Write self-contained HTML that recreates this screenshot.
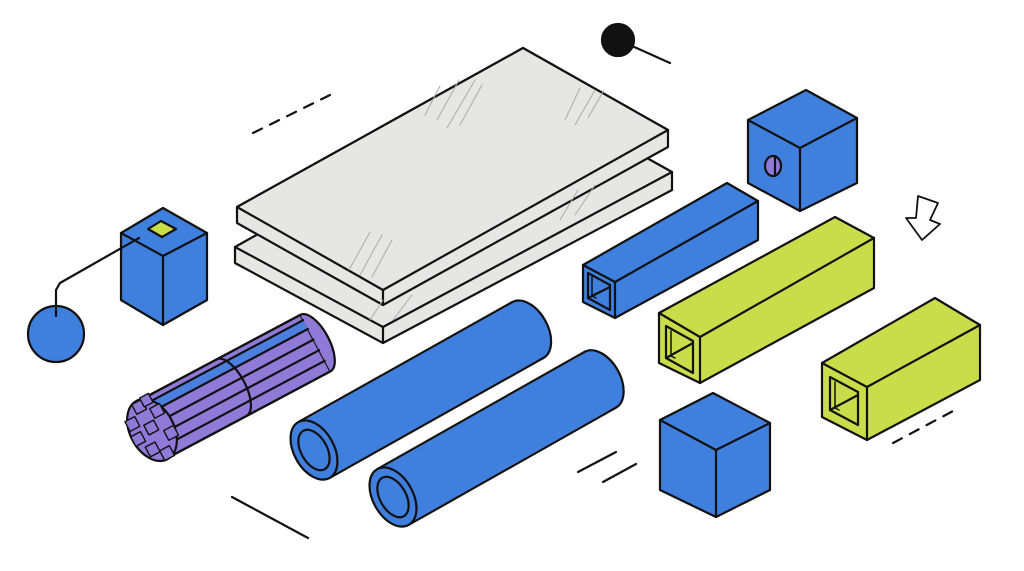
<!DOCTYPE html>
<html><head><meta charset="utf-8"><style>html,body{margin:0;padding:0;background:#fff}svg{display:block}</style></head>
<body>
<svg width="1024" height="571" viewBox="0 0 1024 571" xmlns="http://www.w3.org/2000/svg" stroke="#111" stroke-width="2.2" stroke-linejoin="round" stroke-linecap="round">
<line x1="253" y1="133" x2="330" y2="95" stroke-dasharray="10 9"/>
<line x1="232" y1="497" x2="308" y2="538"/>
<line x1="578" y1="472" x2="616" y2="452"/>
<line x1="603" y1="482" x2="636" y2="464"/>
<line x1="893" y1="443" x2="955" y2="410" stroke-dasharray="10 9"/>
<circle cx="618" cy="40" r="16" fill="#111"/>
<line x1="632" y1="46" x2="670" y2="63"/>

<polygon points="235,247 520,87 672,172 672,190 383,343 235,263" fill="#e6e6e4"/>
<polyline points="235,247 383,327 672,172" fill="none"/>
<line x1="383" y1="327" x2="383" y2="343"/>
<polygon points="237,207 523,48 668,130 668,147 383,305 237,223" fill="#e6e6e4"/>
<polygon points="237,207 523,48 668,130 383,290" fill="#e6e6e4"/>
<line x1="383" y1="290" x2="383" y2="305"/>
<g stroke="#aaa" stroke-width="1">
<line x1="425" y1="115" x2="440" y2="86"/><line x1="437" y1="120" x2="459" y2="80"/><line x1="447" y1="128" x2="475" y2="80"/><line x1="460" y1="125" x2="482" y2="85"/>
<line x1="565" y1="120" x2="580" y2="88"/><line x1="575" y1="125" x2="595" y2="90"/><line x1="588" y1="118" x2="604" y2="90"/>
<line x1="349" y1="270" x2="370" y2="232"/><line x1="360" y1="275" x2="382" y2="235"/><line x1="372" y1="277" x2="392" y2="240"/>
<line x1="370" y1="320" x2="383" y2="300"/><line x1="393" y1="320" x2="412" y2="295"/>
<line x1="560" y1="220" x2="578" y2="190"/><line x1="575" y1="215" x2="595" y2="185"/>
</g>

<polygon points="121,233 163,208 207,233 207,300 163,325 121,300" fill="#3f7fde"/>
<polyline points="121,233 163,256 207,233" fill="none"/>
<line x1="163" y1="256" x2="163" y2="325"/>
<polygon points="148,229 161,221 176,229 162,237" fill="#c9dc4a"/>
<polyline points="139,238 60,283 56,290 56,315" fill="none"/>
<circle cx="56" cy="334" r="28" fill="#3f7fde"/>
<line x1="56" y1="306" x2="56" y2="316"/>

<g transform="translate(152,430) rotate(-28)">
<rect x="0" y="-32" width="185" height="64" fill="#8f7ad8"/>
<path d="M185,-32 A14 32 0 0 1 185,32" fill="#8f7ad8"/>
<line x1="0" y1="-32" x2="185" y2="-32"/><line x1="0" y1="32" x2="185" y2="32"/>
<rect x="0" y="-26" width="185" height="10" fill="#4a7fe0" stroke="none"/>
<line x1="0" y1="-26" x2="185" y2="-26"/><line x1="0" y1="-16" x2="185" y2="-16"/>
<line x1="0" y1="-4" x2="185" y2="-4"/><line x1="0" y1="8" x2="185" y2="8"/><line x1="0" y1="20" x2="185" y2="20"/>
<path d="M90,-32 A14 32 0 0 1 90,32" fill="none"/>
<ellipse cx="0" cy="0" rx="22" ry="33" fill="#8f7ad8"/>
<g fill="#8f7ad8" stroke-width="1.4">
<rect x="-6" y="-32" width="11" height="11"/><rect x="-20" y="-20" width="11" height="11"/><rect x="-22" y="-4" width="11" height="11"/>
<rect x="-14" y="12" width="11" height="11"/><rect x="-3" y="22" width="11" height="11"/><rect x="8" y="-20" width="11" height="11"/><rect x="10" y="6" width="11" height="11"/>
<rect x="-5" y="-8" width="11" height="11"/><rect x="4" y="-34" width="10" height="10"/>
</g>
</g>

<g transform="translate(314,450) rotate(-29.3)">
<ellipse cx="245" cy="0" rx="20" ry="32" fill="#3f7fde"/>
<rect x="0" y="-31" width="245" height="62" fill="#3f7fde" stroke="none"/>
<line x1="0" y1="-32" x2="245" y2="-32"/><line x1="0" y1="32" x2="245" y2="32"/>
<ellipse cx="0" cy="0" rx="20" ry="32" fill="#3f7fde"/>
<ellipse cx="0" cy="0" rx="13" ry="22" fill="#3f7fde"/>
</g>
<g transform="translate(393,497) rotate(-29.5)">
<ellipse cx="238" cy="0" rx="20" ry="32" fill="#3f7fde"/>
<rect x="0" y="-31" width="238" height="62" fill="#3f7fde" stroke="none"/>
<line x1="0" y1="-32" x2="238" y2="-32"/><line x1="0" y1="32" x2="238" y2="32"/>
<ellipse cx="0" cy="0" rx="20" ry="32" fill="#3f7fde"/>
<ellipse cx="0" cy="0" rx="13" ry="22" fill="#3f7fde"/>
</g>

<polygon points="748,120 806,90 857,118 857,183 800,211 748,183" fill="#3f7fde"/>
<polyline points="748,120 800,148 857,118" fill="none"/>
<line x1="800" y1="148" x2="800" y2="211"/>
<ellipse cx="773" cy="166" rx="8" ry="10" fill="#8f7ad8"/>
<line x1="775" y1="156" x2="775" y2="176"/>

<polygon points="918,196 938,203 930,220 940,224 922,240 906,218 916,218" fill="#fff" stroke-width="1.8"/>

<polygon points="583,265 727,183 758,201 758,240 615,318 583,302" fill="#3f7fde"/>
<polyline points="583,265 615,282 758,201" fill="none"/>
<line x1="615" y1="282" x2="615" y2="318"/>
<polygon points="588,273 610,285 610,310 588,298" fill="#3f7fde"/>
<polyline points="588,298 610,287 610,285" fill="none"/>
<polyline points="592,277 592,296 596,298" fill="none" stroke-width="1.5"/>

<polygon points="659,313 835,217 874,238 874,288 700,383 659,363" fill="#c9dc4a"/>
<polyline points="659,313 700,337 874,238" fill="none"/>
<line x1="700" y1="337" x2="700" y2="383"/>
<polygon points="666,326 693,341 693,373 666,358" fill="#c9dc4a"/>
<line x1="666" y1="358" x2="693" y2="343"/>
<polyline points="671,331 671,356 675,358" fill="none" stroke-width="1.5"/>

<polygon points="822,363 935,298 980,325 980,380 867,440 822,417" fill="#c9dc4a"/>
<polyline points="822,363 867,387 980,325" fill="none"/>
<line x1="867" y1="387" x2="867" y2="440"/>
<polygon points="830,377 858,392 858,425 830,410" fill="#c9dc4a"/>
<line x1="830" y1="410" x2="858" y2="395"/>
<polyline points="835,382 835,408 839,410" fill="none" stroke-width="1.5"/>

<polygon points="660,420 713,393 770,423 770,490 716,517 660,490" fill="#3f7fde"/>
<polyline points="660,420 716,450 770,423" fill="none"/>
<line x1="716" y1="450" x2="716" y2="517"/>
</svg>
</body></html>
